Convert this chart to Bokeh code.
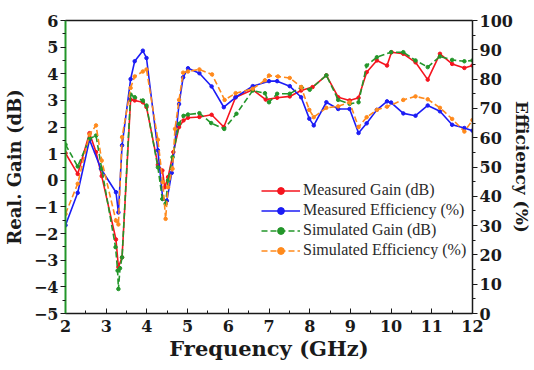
from bokeh.plotting import figure
from bokeh.models import (Range1d, LinearAxis, Legend, LegendItem, FixedTicker,
                          SingleIntervalTicker)
from bokeh.embed import file_html
from bokeh.resources import INLINE

# ---- data ----
meas_gain_freq = [2.0, 2.3, 2.59, 2.75, 2.89, 3.24, 3.3, 3.39, 3.6, 3.7, 3.9, 3.99, 4.27, 4.38, 4.44,
                  4.52, 4.65, 4.79, 4.9, 5.01, 5.29, 5.59, 5.89, 6.18, 6.6, 6.92, 7.2, 7.51, 7.79, 8.07,
                  8.41, 8.7, 8.98, 9.2, 9.4, 9.65, 9.9, 10.01, 10.3, 10.6, 10.9, 11.2, 11.5, 11.8, 12.0]
meas_gain = [1.02, 0.24, 1.77, 1.06, 0.16, -2.22, -3.26, -2.89, 3.03, 3.0, 2.93, 2.75, 0.58, 0.37, -0.26,
             0.12, 1.06, 2.0, 2.25, 2.35, 2.38, 2.46, 2.0, 3.12, 3.4, 3.03, 3.1, 3.15, 3.37, 3.5,
             3.94, 3.12, 3.0, 3.1, 4.06, 4.5, 4.31, 4.81, 4.75, 4.43, 3.78, 4.75, 4.37, 4.22, 4.31]

meas_eff_freq = [2.0, 2.3, 2.59, 2.87, 3.24, 3.3, 3.39, 3.6, 3.7, 3.9, 3.99, 4.27, 4.39, 4.49, 4.61,
                 4.79, 4.89, 5.01, 5.29, 5.59, 5.89, 6.18, 6.6, 7.0, 7.2, 7.51, 7.79, 7.99, 8.1, 8.41,
                 8.7, 8.98, 9.2, 9.4, 9.65, 9.9, 10.0, 10.3, 10.6, 10.9, 11.2, 11.5, 11.8, 12.0]
meas_eff = [30.1, 41.2, 59.3, 49.4, 41.4, 34.5, 57.4, 80.0, 86.1, 89.7, 87.2, 55.7, 39.1, 38.5, 48.0,
            71.5, 80.6, 83.7, 82.0, 77.5, 70.4, 73.8, 77.6, 79.3, 79.3, 77.6, 73.8, 66.5, 64.2, 72.1,
            69.8, 69.8, 61.6, 64.9, 69.5, 72.4, 72.0, 68.3, 67.5, 71.0, 69.0, 64.4, 63.3, 62.4]

sim_gain_freq = [2.0, 2.3, 2.59, 2.75, 2.89, 3.23, 3.28, 3.3, 3.34, 3.39, 3.6, 3.7, 3.9, 3.99, 4.27,
                 4.38, 4.46, 4.52, 4.63, 4.79, 4.9, 5.01, 5.29, 5.58, 5.9, 6.2, 6.6, 6.9, 7.0, 7.2,
                 7.51, 7.79, 8.0, 8.41, 8.7, 8.98, 9.2, 9.4, 9.65, 10.0, 10.3, 10.6, 10.9, 11.2, 11.5,
                 11.8, 12.0]
sim_gain = [1.34, 0.52, 1.56, 1.68, 0.43, -2.51, -3.39, -4.08, -3.3, -2.89, 3.22, 3.12, 3.0, 2.81, 0.49,
            -0.7, -0.88, 0.0, 0.87, 2.12, 2.42, 2.47, 2.52, 2.15, 1.93, 2.5, 3.37, 3.27, 2.93, 3.25,
            3.25, 3.5, 3.4, 3.94, 3.02, 2.87, 2.93, 4.31, 4.62, 4.81, 4.81, 4.5, 4.25, 4.65, 4.52,
            4.47, 4.5]

sim_eff_freq = [2.0, 2.3, 2.59, 2.75, 2.89, 3.24, 3.3, 3.39, 3.6, 3.7, 3.9, 3.99, 4.27, 4.39, 4.46,
                4.52, 4.63, 4.69, 4.79, 4.89, 5.01, 5.29, 5.6, 5.91, 6.18, 6.6, 6.9, 7.0, 7.22, 7.51,
                7.79, 7.99, 8.1, 8.41, 8.7, 8.98, 9.2, 9.4, 9.65, 9.9, 10.3, 10.6, 10.9, 11.2, 11.5,
                11.8, 12.0]
sim_eff = [34.0, 44.3, 61.1, 64.2, 52.2, 31.7, 30.4, 60.2, 77.0, 80.9, 82.6, 83.3, 59.3, 44.8, 32.3,
           43.1, 49.4, 63.0, 72.9, 82.2, 82.6, 83.3, 81.6, 72.9, 75.2, 76.7, 79.6, 81.2, 80.9, 80.4,
           77.3, 69.5, 67.0, 70.2, 70.7, 72.1, 63.6, 67.0, 69.5, 70.6, 72.9, 74.1, 73.1, 70.2, 66.4,
           62.1, 66.0]

series_labels = ["Measured Gain (dB)", "Measured Efficiency (%)",
                 "Simulated Gain (dB)", "Simulated Efficiency (%)"]
x_title = "Frequency (GHz)"
y_title = "Real. Gain (dB)"
y2_title = "Efficiency (%)"

RED, BLUE, GREEN, ORANGE = "#f5141e", "#1c1cf5", "#23962a", "#ff8a1c"
AXFONT = "DejaVu Serif"
LEGFONT = "Times New Roman"
INK = "#1a1a1a"

p = figure(width=534, height=370, x_range=Range1d(2, 12), y_range=Range1d(-5, 6),
           output_backend="svg", toolbar_location=None,
           min_border_left=63, min_border_right=50, min_border_top=20, min_border_bottom=57)
p.extra_y_ranges = {"eff": Range1d(0, 100)}
p.xgrid.visible = False
p.ygrid.visible = False
p.outline_line_color = None
p.background_fill_color = "white"
p.border_fill_color = "white"


def style_axis(ax, title_size="18px", label_size="16px"):
    ax.axis_label_text_font = AXFONT
    ax.axis_label_text_font_style = "bold"
    ax.axis_label_text_font_size = title_size
    ax.axis_label_text_color = INK
    ax.major_label_text_font = AXFONT
    ax.major_label_text_font_style = "bold"
    ax.major_label_text_font_size = label_size
    ax.major_label_text_color = INK
    ax.major_tick_line_color = INK
    ax.minor_tick_line_color = INK
    ax.axis_line_color = INK
    ax.axis_line_width = 1.5


# bottom axis
xa = p.xaxis[0]
xa.ticker = SingleIntervalTicker(interval=1, num_minor_ticks=2)
xa.axis_label = x_title
style_axis(xa, title_size="21px")
xa.axis_label_standoff = 1
xa.major_label_standoff = 6
xa.major_tick_in = 5
xa.major_tick_out = 0
xa.minor_tick_in = 3
xa.minor_tick_out = 0

# left axis
ya = p.yaxis[0]
ya.ticker = SingleIntervalTicker(interval=1, num_minor_ticks=2)
ya.axis_label = y_title
style_axis(ya)
ya.axis_label_standoff = 6
ya.major_label_standoff = 2
ya.major_tick_in = 0
ya.major_tick_out = 5
ya.minor_tick_in = 0
ya.minor_tick_out = 3
ya.axis_line_color = GREEN
ya.axis_line_width = 2

# right axis
ra = LinearAxis(y_range_name="eff", axis_label=y2_title,
                ticker=SingleIntervalTicker(interval=10, num_minor_ticks=2))
style_axis(ra, title_size="17px")
ra.axis_label_standoff = -4
ra.major_label_standoff = 2
ra.major_tick_in = 0
ra.major_tick_out = 5
ra.minor_tick_in = 0
ra.minor_tick_out = 3
p.add_layout(ra, "right")

# top border line
ta = LinearAxis(ticker=FixedTicker(ticks=[]), major_label_text_font_size="0px")
ta.axis_line_width = 1.5
ta.axis_line_color = INK
ta.major_tick_line_color = None
ta.minor_tick_line_color = None
p.add_layout(ta, "above")

# series
l1 = p.line(meas_gain_freq, meas_gain, line_color=RED, line_width=1.6)
s1 = p.scatter(meas_gain_freq, meas_gain, size=3.5, color=RED)
l2 = p.line(meas_eff_freq, meas_eff, line_color=BLUE, line_width=1.6, y_range_name="eff")
s2 = p.scatter(meas_eff_freq, meas_eff, size=3.5, color=BLUE, y_range_name="eff")
l3 = p.line(sim_gain_freq, sim_gain, line_color=GREEN, line_width=1.6, line_dash="6 3")
s3 = p.scatter(sim_gain_freq, sim_gain, size=3.5, color=GREEN)
l4 = p.line(sim_eff_freq, sim_eff, line_color=ORANGE, line_width=1.6, line_dash="6 3",
            y_range_name="eff")
s4 = p.scatter(sim_eff_freq, sim_eff, size=3.5, color=ORANGE, y_range_name="eff")

legend = Legend(items=[
    LegendItem(label=series_labels[0], renderers=[l1, s1]),
    LegendItem(label=series_labels[1], renderers=[l2, s2]),
    LegendItem(label=series_labels[2], renderers=[l3, s3]),
    LegendItem(label=series_labels[3], renderers=[l4, s4]),
], location=(196, 54))
legend.label_text_font = LEGFONT
legend.label_text_font_size = "16px"
legend.label_text_color = "#2a2a2a"
legend.glyph_width = 39
legend.glyph_height = 17
legend.label_height = 17
legend.spacing = 2
legend.label_standoff = 3
legend.padding = 0
legend.margin = 0
legend.border_line_color = None
legend.background_fill_alpha = 0
p.add_layout(legend, "center")

open("out.html", "w").write(file_html(p, INLINE))
